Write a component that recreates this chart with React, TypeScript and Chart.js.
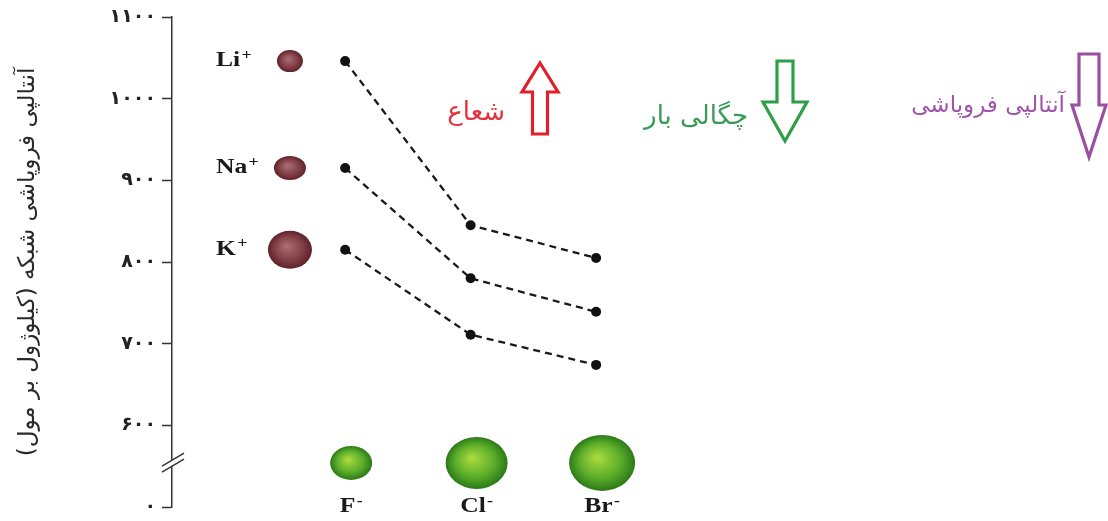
import React, { useEffect, useRef } from 'react';
import { Chart, registerables } from 'chart.js';
Chart.register(...registerables);

// ---- data ----
const anionLabels = ['F', 'Cl', 'Br'];
const anionX = [1, 2, 3];
const cationLabels = ['Li', 'Na', 'K'];
const liValues = [1046, 845, 805];
const naValues = [915, 780, 739];
const kValues = [815, 711, 674];
const yTickValues = [500, 600, 700, 800, 900, 1000, 1100];
const yTickLabels = ['۰', '۶۰۰', '۷۰۰', '۸۰۰', '۹۰۰', '۱۰۰۰', '۱۱۰۰'];
const yTitle = 'آنتالپی فروپاشی شبکه (کیلوژول بر مول)';
const arrowTexts = ['شعاع', 'چگالی بار', 'آنتالپی فروپاشی'];

// ---- styles ----
const PERSIAN = '"DejaVu Sans", sans-serif';
const SERIF = '"Liberation Serif", "DejaVu Serif", serif';
const cationRadii = [[13, 11], [16, 12], [22, 19]];
const anionRadii = [[21, 17], [31, 26], [33, 28]];
const CATION_X = 0.56;
const ANION_MARK_Y = 554;
const BREAK_Y = 555;

function toPt(vals: number[]) {
  return vals.map((v, i) => ({ x: anionX[i], y: v }));
}

function ball(ctx: CanvasRenderingContext2D, cx: number, cy: number, rx: number, ry: number, stops: [number, string][]) {
  ctx.save();
  ctx.translate(cx, cy);
  ctx.scale(rx / ry, 1);
  const g = ctx.createRadialGradient(-ry * 0.15, -ry * 0.2, ry * 0.05, 0, 0, ry);
  stops.forEach(([o, c]) => g.addColorStop(o, c));
  ctx.fillStyle = g;
  ctx.beginPath();
  ctx.arc(0, 0, ry, 0, Math.PI * 2);
  ctx.fill();
  ctx.restore();
}

function arrow(ctx: CanvasRenderingContext2D, cx: number, tip: number, base: number, end: number, hh: number, sh: number, color: string) {
  ctx.save();
  ctx.strokeStyle = color;
  ctx.lineWidth = 3.2;
  ctx.lineJoin = 'miter';
  ctx.beginPath();
  ctx.moveTo(cx, tip);
  ctx.lineTo(cx + hh, base);
  ctx.lineTo(cx + sh, base);
  ctx.lineTo(cx + sh, end);
  ctx.lineTo(cx - sh, end);
  ctx.lineTo(cx - sh, base);
  ctx.lineTo(cx - hh, base);
  ctx.closePath();
  ctx.stroke();
  ctx.restore();
}

function ionLabel(ctx: CanvasRenderingContext2D, x: number, y: number, main: string, sup: string, align: 'left' | 'center', stretch: number) {
  ctx.save();
  ctx.fillStyle = '#1a1a1a';
  ctx.textBaseline = 'middle';
  ctx.textAlign = 'left';
  ctx.font = `bold 20px ${SERIF}`;
  const w1 = ctx.measureText(main).width;
  ctx.font = `bold 14px ${SERIF}`;
  const w2 = ctx.measureText(sup).width;
  const total = (w1 + w2 + 1) * stretch;
  const start = align === 'left' ? x : x - total / 2;
  ctx.translate(start, y);
  ctx.scale(stretch, 1);
  ctx.font = `bold 20px ${SERIF}`;
  ctx.fillText(main, 0, 0);
  ctx.font = `bold 14px ${SERIF}`;
  ctx.fillText(sup, w1 + 1, -6);
  ctx.restore();
}

const decor = {
  id: 'decor',
  afterDraw(chart: any) {
    const ctx: CanvasRenderingContext2D = chart.ctx;
    const xs = chart.scales.x;
    const ys = chart.scales.y;
    const series = [liValues, naValues, kValues];

    // axis break
    const ax = chart.chartArea.left;
    const by = ys.getPixelForValue(BREAK_Y);
    ctx.save();
    ctx.fillStyle = '#fff';
    ctx.beginPath();
    ctx.moveTo(ax - 10, by + 4);
    ctx.lineTo(ax + 12, by - 9);
    ctx.lineTo(ax + 12, by - 3);
    ctx.lineTo(ax - 10, by + 10);
    ctx.closePath();
    ctx.fill();
    ctx.strokeStyle = '#333';
    ctx.lineWidth = 1.5;
    ctx.beginPath();
    ctx.moveTo(ax - 10, by + 4);
    ctx.lineTo(ax + 12, by - 9);
    ctx.moveTo(ax - 10, by + 10);
    ctx.lineTo(ax + 12, by - 3);
    ctx.stroke();
    ctx.restore();

    // cations
    cationLabels.forEach((lab, i) => {
      const cx = xs.getPixelForValue(CATION_X);
      const cy = ys.getPixelForValue(series[i][0]);
      ball(ctx, cx, cy, cationRadii[i][0], cationRadii[i][1], [[0, '#a86c72'], [0.65, '#803c44'], [1, '#5e2228']]);
      ionLabel(ctx, cx - 74, cy, lab, '+', 'left', 1.28);
    });

    // anions
    anionLabels.forEach((lab, i) => {
      const cx = xs.getPixelForValue(anionX[i]) + 6;
      const cy = ys.getPixelForValue(ANION_MARK_Y);
      ball(ctx, cx, cy, anionRadii[i][0], anionRadii[i][1], [[0, '#a8d83e'], [0.6, '#5cae2a'], [1, '#2b7a18']]);
      ionLabel(ctx, cx, ys.getPixelForValue(500), lab, '-', 'center', 1.28);
    });

    // trend arrows
    arrow(ctx, 540, 63, 92, 134, 18, 7.5, '#e0202a');
    arrow(ctx, 785, 141, 102, 61, 22, 8, '#2e9e48');
    arrow(ctx, 1089, 157, 105, 54, 17, 10, '#9a4fa0');

    ctx.save();
    ctx.textAlign = 'right';
    ctx.textBaseline = 'middle';
    ctx.font = `26px ${PERSIAN}`;
    ctx.fillStyle = '#e3323c';
    ctx.fillText(arrowTexts[0], 505, 113);
    ctx.fillStyle = '#3a9a58';
    ctx.fillText(arrowTexts[1], 748, 117);
    ctx.font = `23px ${PERSIAN}`;
    ctx.fillStyle = '#a056a8';
    ctx.fillText(arrowTexts[2], 1065, 106);
    ctx.restore();
  },
};

export default function App() {
  const ref = useRef<HTMLCanvasElement>(null);
  useEffect(() => {
    if (!ref.current) return;
    const lineStyle = {
      showLine: true,
      borderColor: '#1a1a1a',
      borderWidth: 2.3,
      borderDash: [7, 5],
      pointRadius: 5,
      pointBackgroundColor: '#111',
      pointBorderWidth: 0,
      fill: false,
    };
    const chart = new Chart(ref.current, {
      type: 'scatter',
      data: {
        datasets: [
          { label: 'Li', data: toPt(liValues), ...lineStyle },
          { label: 'Na', data: toPt(naValues), ...lineStyle },
          { label: 'K', data: toPt(kValues), ...lineStyle },
        ],
      },
      options: {
        responsive: false,
        animation: false,
        layout: { padding: { top: 17, bottom: 14, left: 0, right: 10 } },
        plugins: { legend: { display: false }, tooltip: { enabled: false } },
        scales: {
          x: { type: 'linear', min: -0.38, max: 7.0, display: false },
          y: {
            type: 'linear',
            min: 500,
            max: 1100,
            afterBuildTicks: (s: any) => {
              s.ticks = yTickValues.map((v) => ({ value: v }));
            },
            afterFit: (s: any) => {
              s.width = 172;
              s.paddingTop = 0;
              s.paddingBottom = 0;
            },
            ticks: {
              callback: (v: any) => {
                const k = yTickValues.indexOf(Number(v));
                return k >= 0 ? yTickLabels[k] : '';
              },
              font: { family: PERSIAN, size: 19, weight: 'bold' },
              color: '#222',
              padding: 6,
            },
            grid: { drawOnChartArea: false, drawTicks: true, tickLength: 10, tickColor: '#333', tickWidth: 1.5 },
            border: { display: true, color: '#333', width: 1.5 },
            title: {
              display: true,
              text: yTitle,
              font: { family: PERSIAN, size: 23 },
              color: '#2a2a2a',
              padding: { top: 14, bottom: 0 },
            },
          },
        },
      },
      plugins: [decor],
    } as any);
    return () => chart.destroy();
  }, []);
  return (
    <canvas
      ref={ref}
      width={1108}
      height={521}
      style={{ position: 'fixed', left: 0, top: 0, width: 1108, height: 521, display: 'block', background: '#fff' }}
    />
  );
}
